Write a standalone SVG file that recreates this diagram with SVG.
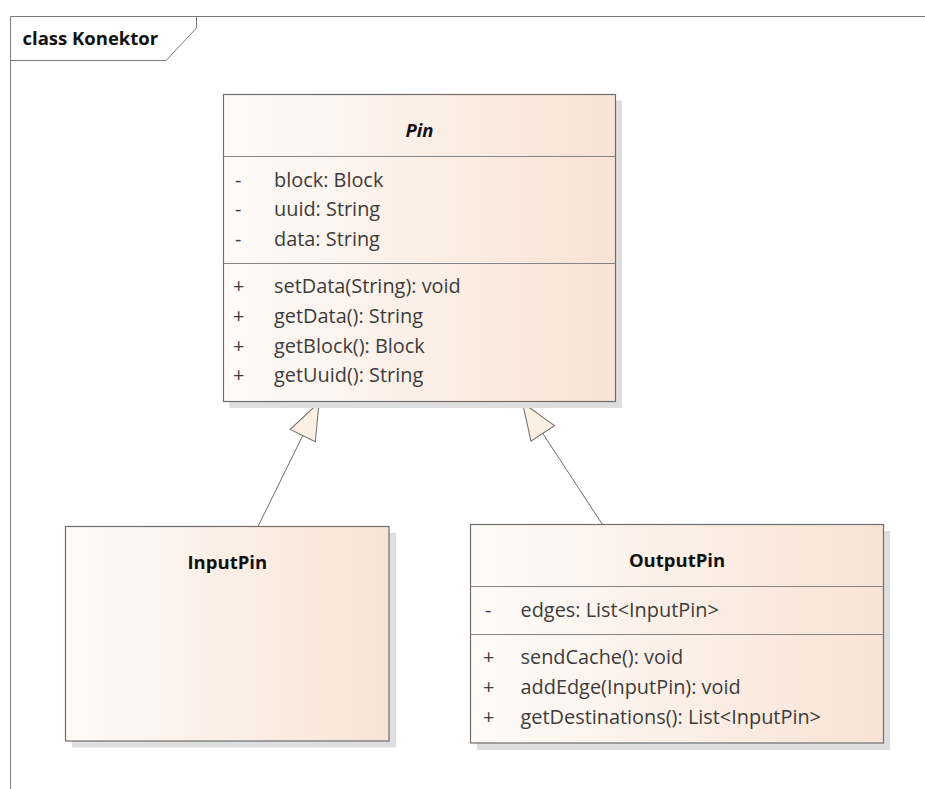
<svg xmlns="http://www.w3.org/2000/svg" width="925" height="789" viewBox="0 0 925 789">
  <style>
    .frame { fill: none; stroke: #7a7a7a; stroke-width: 1; }
    .box { fill: url(#classFill); stroke: #6e6e6e; stroke-width: 1.2; }
    .shadow { fill: #dedede; }
    .sep { stroke: #858585; stroke-width: 1; }
    .title { font-family: "Open Sans", "Liberation Sans", sans-serif; font-weight: bold; font-size: 18.5px; fill: #111; }
    .member { font-family: "Open Sans", "Liberation Sans", sans-serif; font-size: 19.9px; fill: #3c3c3c; }
    .edge { fill: none; stroke: #6e6e6e; stroke-width: 1; }
  </style>
  <defs>
    <linearGradient id="classFill" x1="0" y1="0" x2="1" y2="0">
      <stop offset="0" stop-color="#fefbf8"/>
      <stop offset="1" stop-color="#f8e3d5"/>
    </linearGradient>
    <!-- hollow generalization triangle, tip at the path start -->
    <marker id="genArrow" markerUnits="userSpaceOnUse" markerWidth="40" markerHeight="32" viewBox="-1 -15 39 30" refX="0" refY="0" orient="auto">
      <path d="M0,0 L36,-13.7 L36,13.7 Z" fill="#fbf0e1" stroke="#6e6e6e" stroke-width="1"/>
    </marker>
  </defs>

  <rect width="925" height="789" fill="#ffffff"/>

  <!-- diagram frame -->
  <g id="frame">
    <path class="frame" d="M10.5,789 V16.5 H925"/>
    <path class="frame" d="M10.5,60.5 H166 L196.5,28 V16.5"/>
    <text x="22.5" y="45" class="title">class Konektor</text>
  </g>

  <!-- generalization connectors -->
  <g id="connectors">
    <path class="edge" d="M319,402.5 L258,526.5" marker-start="url(#genArrow)"/>
    <path class="edge" d="M522.5,402.5 L602.3,524.3" marker-start="url(#genArrow)"/>
  </g>

  <g id="Pin">
    <rect class="shadow" x="229.5" y="100.5" width="392.5" height="307.5"/>
    <rect class="box" x="223.5" y="94.5" width="392" height="307"/>
    <line class="sep" x1="223.5" y1="156.5" x2="615.5" y2="156.5"/>
    <line class="sep" x1="223.5" y1="263.5" x2="615.5" y2="263.5"/>
    <text x="419.5" y="137" class="title" text-anchor="middle" font-style="italic">Pin</text>
    <g class="member">
      <text x="235" y="186.5">-</text><text x="274" y="186.5">block: Block</text>
      <text x="235" y="216.3">-</text><text x="274" y="216.3">uuid: String</text>
      <text x="235" y="246.1">-</text><text x="274" y="246.1">data: String</text>
      <text x="233" y="293.3">+</text><text x="274" y="293.3">setData(String): void</text>
      <text x="233" y="323">+</text><text x="274" y="323">getData(): String</text>
      <text x="233" y="352.7">+</text><text x="274" y="352.7">getBlock(): Block</text>
      <text x="233" y="382.4">+</text><text x="274" y="382.4">getUuid(): String</text>
    </g>
  </g>

  <g id="InputPin">
    <rect class="shadow" x="72" y="533" width="324" height="214.5"/>
    <rect class="box" x="65.5" y="526.5" width="323.5" height="214.5"/>
    <text x="227.3" y="568.5" class="title" text-anchor="middle">InputPin</text>
  </g>

  <g id="OutputPin">
    <rect class="shadow" x="477" y="531" width="413" height="219"/>
    <rect class="box" x="470.5" y="524.5" width="413" height="218.5"/>
    <line class="sep" x1="470.5" y1="586.5" x2="883.5" y2="586.5"/>
    <line class="sep" x1="470.5" y1="634.5" x2="883.5" y2="634.5"/>
    <text x="677" y="567" class="title" text-anchor="middle">OutputPin</text>
    <g class="member">
      <text x="485" y="617">-</text><text x="520.5" y="617">edges: List&lt;InputPin&gt;</text>
      <text x="483" y="664.3">+</text><text x="520.5" y="664.3">sendCache(): void</text>
      <text x="483" y="694">+</text><text x="520.5" y="694">addEdge(InputPin): void</text>
      <text x="483" y="723.5">+</text><text x="520.5" y="723.5">getDestinations(): List&lt;InputPin&gt;</text>
    </g>
  </g>
</svg>
